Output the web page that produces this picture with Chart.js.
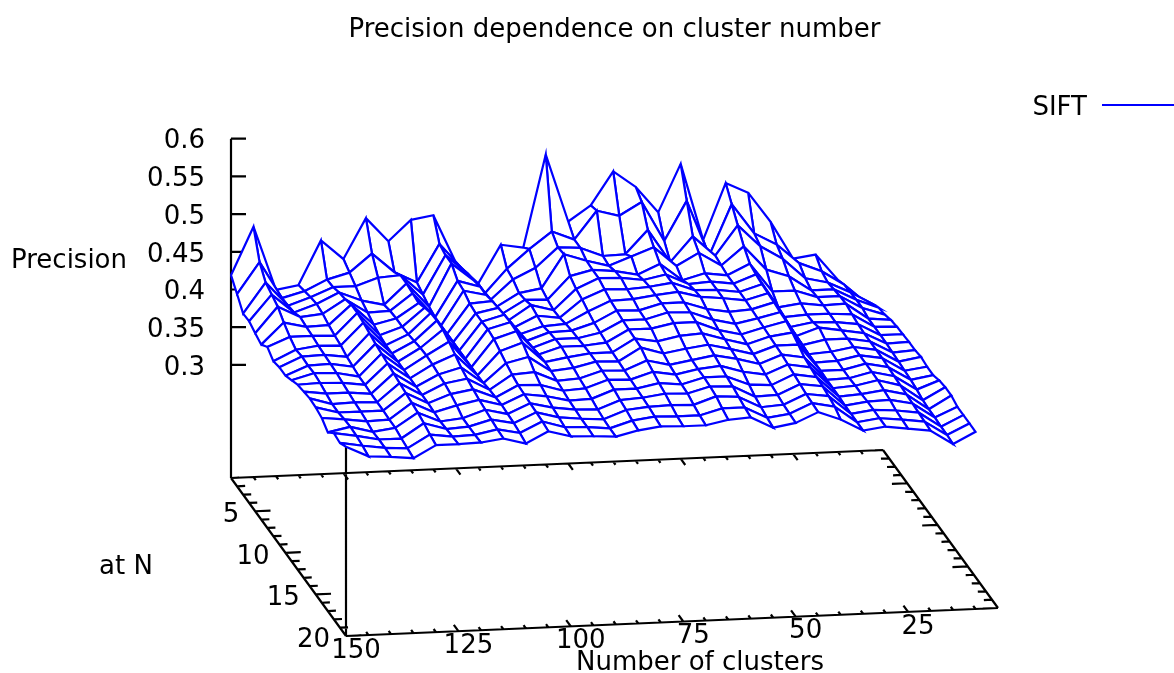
<!DOCTYPE html>
<html>
<head>
<meta charset="utf-8">
<title>Precision dependence on cluster number</title>
<script src="https://cdn.jsdelivr.net/npm/chart.js@4/dist/chart.umd.min.js"></script>
<style>
  html, body { margin: 0; padding: 0; background: #fff; }
  canvas { display: block; }
</style>
</head>
<body>
<canvas id="surfaceChart" width="1174" height="673"></canvas>
<script>
// --- data: one list per cluster count, values for N = 1..20 ---
const atNValues = [1,2,3,4,5,6,7,8,9,10,11,12,13,14,15,16,17,18,19,20];
const clusterCounts = [150,145,140,135,130,125,120,115,110,105,100,95,90,85,80,75,70,65,60,55,50,45,40,35,30,25,20,15,10];

const k150 = [.419,.405,.390,.391,.386,.382,.390,.382,.385,.385,.390,.395,.397,.399,.398,.395,.387,.397,.395,.401];
const k145 = [.482,.446,.430,.425,.420,.410,.402,.396,.398,.397,.398,.396,.393,.390,.390,.392,.393,.392,.390,.387];
const k140 = [.397,.397,.398,.400,.405,.403,.402,.400,.399,.398,.397,.395,.393,.391,.390,.388,.385,.386,.386,.385];
const k135 = [.402,.405,.408,.410,.408,.404,.401,.399,.395,.393,.391,.391,.390,.390,.390,.389,.389,.386,.384,.382];
const k130 = [.460,.419,.420,.424,.426,.430,.430,.428,.425,.422,.420,.418,.416,.414,.412,.410,.408,.405,.401,.398];
const k125 = [.434,.427,.420,.412,.407,.402,.399,.397,.397,.397,.397,.397,.397,.397,.397,.396,.395,.396,.397,.398];
const k120 = [.487,.451,.430,.405,.408,.409,.409,.410,.412,.414,.415,.414,.412,.411,.408,.404,.398,.398,.398,.399];
const k115 = [.455,.425,.432,.432,.430,.428,.433,.437,.438,.437,.432,.426,.420,.416,.413,.410,.408,.406,.404,.403];
const k110 = [.482,.410,.405,.400,.397,.397,.397,.397,.397,.397,.397,.397,.398,.400,.401,.402,.401,.400,.398,.395];
const k105 = [.487,.460,.456,.456,.444,.442,.436,.434,.434,.435,.433,.428,.423,.419,.416,.415,.414,.413,.412,.410];
const k100 = [.423,.426,.430,.432,.435,.435,.438,.440,.442,.443,.442,.438,.430,.421,.415,.411,.407,.405,.403,.402];
const k95 = [.394,.391,.394,.396,.398,.400,.402,.404,.406,.408,.410,.411,.410,.408,.406,.404,.403,.402,.402,.401];
const k90 = [.444,.423,.420,.413,.415,.419,.416,.413,.416,.418,.419,.416,.413,.410,.408,.405,.402,.400,.399,.399];
const k85 = [.439,.448,.434,.418,.414,.411,.412,.415,.417,.418,.419,.420,.420,.419,.418,.416,.413,.411,.408,.406];
const k80 = [.561,.470,.460,.462,.444,.438,.435,.430,.426,.424,.422,.420,.419,.418,.417,.416,.415,.414,.412,.410];
const k75 = [.471,.458,.458,.452,.451,.451,.447,.443,.441,.439,.438,.437,.436,.430,.426,.422,.419,.415,.411,.409];
const k70 = [.491,.495,.446,.444,.448,.450,.446,.444,.440,.439,.438,.432,.427,.423,.421,.419,.418,.414,.411,.409];
const k65 = [.535,.487,.447,.455,.442,.446,.448,.448,.448,.447,.444,.438,.432,.428,.427,.427,.426,.424,.419,.415];
const k60 = [.513,.504,.478,.466,.455,.452,.452,.451,.448,.446,.444,.440,.436,.433,.430,.427,.425,.422,.419,.417];
const k55 = [.478,.451,.434,.440,.432,.438,.441,.443,.438,.435,.432,.431,.429,.427,.421,.415,.410,.407,.404,.402];
const k50 = [.541,.503,.467,.456,.440,.440,.440,.440,.433,.428,.425,.423,.421,.419,.416,.413,.411,.409,.408,.407];
const k45 = [.439,.429,.440,.438,.436,.436,.436,.436,.435,.434,.433,.432,.431,.430,.428,.426,.424,.422,.421,.420];
const k40 = [.513,.496,.479,.462,.450,.447,.445,.444,.443,.441,.440,.436,.431,.425,.423,.421,.420,.418,.415,.409];
const k35 = [.499,.456,.450,.430,.412,.402,.400,.398,.397,.396,.395,.395,.395,.394,.394,.394,.393,.393,.393,.393];
const k30 = [.459,.440,.432,.420,.412,.406,.402,.403,.407,.402,.397,.396,.395,.395,.396,.396,.397,.397,.397,.397];
const k25 = [.409,.414,.405,.400,.402,.402,.402,.402,.402,.402,.402,.402,.402,.402,.402,.400,.398,.395,.394,.393];
const k20 = [.413,.402,.398,.400,.402,.403,.400,.398,.397,.397,.397,.397,.396,.395,.394,.393,.392,.391,.390,.389];
const k15 = [.378,.383,.384,.385,.385,.382,.382,.382,.382,.381,.380,.379,.378,.376,.373,.372,.372,.371,.371,.370];
const k10 = [.346,.357,.367,.373,.375,.379,.381,.382,.383,.383,.385,.383,.383,.387,.389,.389,.385,.385,.385,.385];

const precisionColumns = [k150,k145,k140,k135,k130,k125,k120,k115,k110,k105,k100,k95,k90,k85,k80,k75,k70,k65,k60,k55,k50,k45,k40,k35,k30,k25,k20,k15,k10];

// tick labels
const precisionTicks = [0.3,0.35,0.4,0.45,0.5,0.55,0.6];
const atNLabels = [5,10,15,20];
const clusterLabels = [150,125,100,75,50,25];

// --- axis ranges and view ---
const CLUSTER_MAX = 150, CLUSTER_MIN = 5;
const N_MIN = 1, N_MAX = 20;
const Z_BASE = 0.15, Z_TOP = 0.6;
const BLUE = '#0000ff';
const FONT = '26px "DejaVu Sans"';

// gnuplot style view: base plane is a parallelogram, z goes straight up
function project(clusters, n, z) {
    const u = (CLUSTER_MAX - clusters) / (CLUSTER_MAX - CLUSTER_MIN);
    const v = (n - N_MIN) / (N_MAX - N_MIN);
    return {
        x: 231 + 652 * u + 115 * v,
        y: 478 - 28 * u + 158 * v - (z - Z_BASE) * 754
    };
}

// 1. Surface cells, nearest first (Chart.js paints dataset 0 last)
const cellDatasets = [];
for (let r = atNValues.length - 2; r >= 0; r--) {
    for (let i = 0; i < clusterCounts.length - 1; i++) {
        const c0 = clusterCounts[i], c1 = clusterCounts[i + 1];
        const n0 = atNValues[r], n1 = atNValues[r + 1];
        const p0 = project(c0, n0, precisionColumns[i][r]);
        const p1 = project(c1, n0, precisionColumns[i + 1][r]);
        const p2 = project(c1, n1, precisionColumns[i + 1][r + 1]);
        const p3 = project(c0, n1, precisionColumns[i][r + 1]);
        cellDatasets.push({
            label: 'SIFT',
            data: [p0, p1, p2, p3, p0],
            showLine: true,
            borderColor: BLUE,
            borderWidth: 2.2,
            backgroundColor: '#ffffff',
            fill: 'shape',
            pointRadius: 0,
            tension: 0
        });
    }
}

// 2. Axes and tick marks as one broken line
const axisPoints = [];
function addSegment(a, b) {
    axisPoints.push(a, b, { x: NaN, y: NaN });
}
addSegment(project(150, 1, Z_BASE), project(150, 1, Z_TOP));
addSegment(project(150, 1, Z_BASE), project(5, 1, Z_BASE));
addSegment(project(5, 1, Z_BASE), project(5, 20, Z_BASE));
addSegment(project(5, 20, Z_BASE), project(150, 20, Z_BASE));
addSegment(project(150, 20, Z_BASE), project(150, 1, Z_BASE));
addSegment(project(150, 20, Z_BASE), project(150, 20, k150[19]));

precisionTicks.forEach(t => {
    const a = project(150, 1, t);
    addSegment(a, { x: a.x + 15, y: a.y });
});
for (let c = 150; c >= 5; c -= 5) {
    const major = c % 25 === 0;
    const dn = major ? 0.76 : 0.38;
    addSegment(project(c, 1, Z_BASE), project(c, 1 + dn, Z_BASE));
    addSegment(project(c, 20, Z_BASE), project(c, 20 - dn, Z_BASE));
}
for (let n = 1; n <= 20; n++) {
    const major = n % 5 === 0;
    const dc = major ? 3.4 : 1.8;
    addSegment(project(150, n, Z_BASE), project(150 - dc, n, Z_BASE));
    addSegment(project(5, n, Z_BASE), project(5 + dc, n, Z_BASE));
}

const axisDataset = {
    label: 'axes',
    data: axisPoints,
    showLine: true,
    spanGaps: false,
    borderColor: '#000000',
    borderWidth: 2.2,
    pointRadius: 0,
    fill: false
};

// 3. Texts that Chart.js has no slot for in a 3D view
const labelPlugin = {
    id: 'surfaceLabels',
    afterDatasetsDraw(chart) {
        const { ctx, scales } = chart;
        const px = p => ({ x: scales.x.getPixelForValue(p.x), y: scales.y.getPixelForValue(p.y) });
        const text = (str, x, y, align) => {
            ctx.textAlign = align;
            ctx.fillText(str, x, y);
        };
        ctx.save();
        ctx.font = FONT;
        ctx.fillStyle = '#000';
        ctx.textBaseline = 'middle';

        precisionTicks.forEach(t => {
            const p = px(project(150, 1, t));
            text(String(t), p.x - 26, p.y + 3, 'right');
        });
        atNLabels.forEach(n => {
            const p = px(project(150, n, Z_BASE));
            text(String(n), p.x - 16, p.y + 4, 'right');
        });
        clusterLabels.forEach(c => {
            const p = px(project(c, 20, Z_BASE));
            text(String(c), p.x + 10, p.y + 15, 'center');
        });

        text('Precision', 11, 261, 'left');
        text('at N', 126, 567, 'center');
        text('Number of clusters', 700, 663, 'center');

        // legend
        text('SIFT', 1087, 108, 'right');
        ctx.strokeStyle = BLUE;
        ctx.lineWidth = 2.2;
        ctx.beginPath();
        ctx.moveTo(1102, 105);
        ctx.lineTo(1174, 105);
        ctx.stroke();
        ctx.restore();
    }
};

new Chart(document.getElementById('surfaceChart').getContext('2d'), {
    type: 'scatter',
    data: { datasets: [...cellDatasets, axisDataset] },
    plugins: [labelPlugin],
    options: {
        responsive: false,
        animation: false,
        devicePixelRatio: 1,
        layout: { padding: { left: 55 } },
        scales: {
            x: { type: 'linear', min: 55, max: 1174, display: false },
            y: { type: 'linear', min: 50, max: 673, reverse: true, display: false }
        },
        plugins: {
            legend: { display: false },
            tooltip: { enabled: false },
            title: {
                display: true,
                text: 'Precision dependence on cluster number',
                fullSize: false,
                color: '#000',
                font: { family: '"DejaVu Sans"', size: 26, weight: 'normal' },
                padding: { top: 15, bottom: 3.8 }
            }
        }
    }
});
</script>
</body>
</html>
